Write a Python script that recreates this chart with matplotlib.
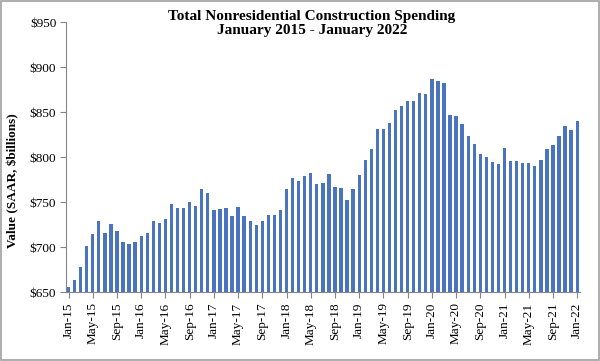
import numpy as np
import matplotlib
matplotlib.use("Agg")
import matplotlib.pyplot as plt
from matplotlib.patches import Rectangle
from matplotlib.ticker import FuncFormatter

# monthly spending, Jan 2015 - Jan 2022 ($ billions, SAAR)
values = [
    656, 663, 678, 701, 715, 729, 716, 726, 718, 706, 703, 706,
    712, 716, 729, 727, 731, 748, 743, 743, 750, 746, 764, 760,
    741, 742, 743, 734, 744, 734, 729, 725, 729, 736, 736, 741,
    764, 777, 773, 779, 782, 770, 771, 781, 767, 766, 752, 764,
    780, 797, 809, 831, 831, 838, 852, 857, 862, 862, 871, 870,
    887, 884, 882, 847, 846, 837, 823, 814, 803, 800, 794, 792,
    810, 796, 796, 793, 793, 790, 797, 809, 813, 823, 834, 830,
    840,
]
months = ['Jan', 'Feb', 'Mar', 'Apr', 'May', 'Jun',
          'Jul', 'Aug', 'Sep', 'Oct', 'Nov', 'Dec']
labels = ['%s-%02d' % (months[i % 12], 15 + i // 12) for i in range(len(values))]

plt.rcParams['font.family'] = ['Liberation Serif', 'DejaVu Serif']

fig = plt.figure(figsize=(6.0, 3.61), dpi=100)
ax = fig.add_axes([0.11, 0.191, 0.857, 0.748])

x = np.arange(len(values))
ax.bar(x, values, width=0.55, color='#4A74C0', bottom=0)

ax.set_ylim(650, 950)
ax.set_yticks(np.arange(650, 951, 50))
ax.yaxis.set_major_formatter(FuncFormatter(lambda v, p: '$%d' % v))
ax.set_xlim(-0.42, 84.5)
ax.set_xticks(x[::4])
ax.set_xticklabels(labels[::4], rotation=90)

for s in ['top', 'right']:
    ax.spines[s].set_visible(False)
for s in ['left', 'bottom']:
    ax.spines[s].set_color('#868686')
ax.tick_params(axis='both', colors='#868686', labelcolor='black',
               length=4, labelsize=9.5)
ax.tick_params(axis='y', pad=3)

fig.text(0.52, 0.935, 'Total Nonresidential Construction Spending\nJanuary 2015 - January 2022',
         ha='center', va='center', fontsize=11, fontweight='bold', linespacing=1.15)
fig.text(0.022, 0.5, 'Value (SAAR, $billions)', rotation=90, ha='center', va='center',
         fontsize=9.5, fontweight='bold')

# grey frame round the chart
fig.patches.append(Rectangle((0.001, 0.002), 0.997, 0.995, transform=fig.transFigure,
                             fill=False, edgecolor='#A0A0A0', linewidth=1.2))

fig.savefig('out.png', dpi=100)
